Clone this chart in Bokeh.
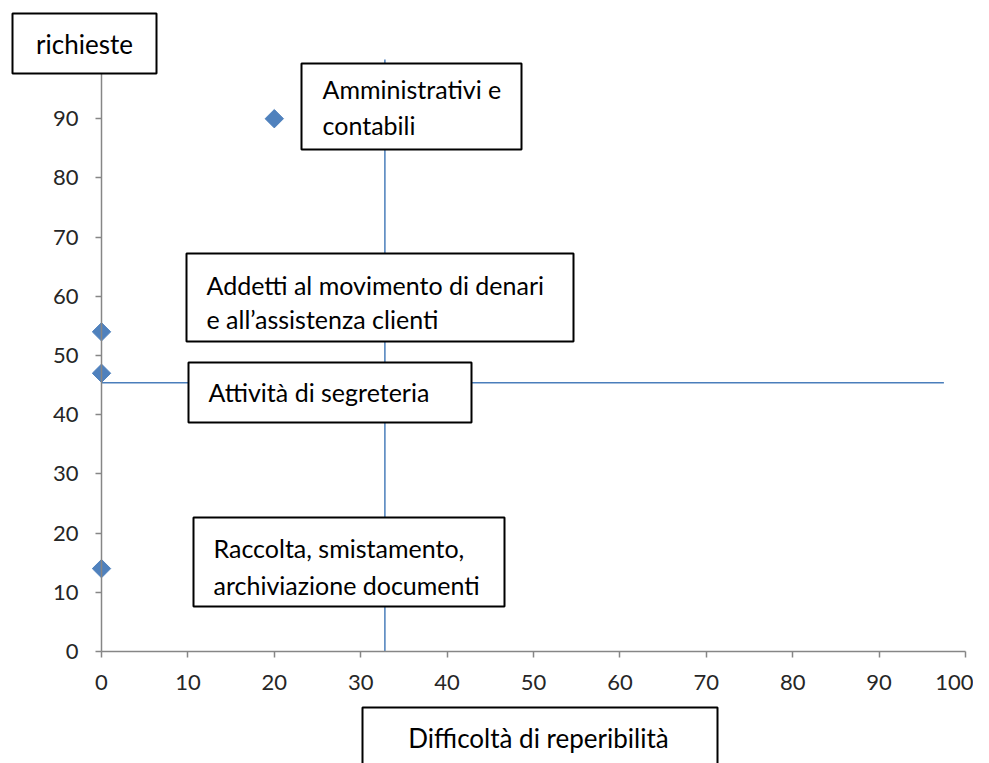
from bokeh.plotting import figure
from bokeh.models import BoxAnnotation, Label, FixedTicker, Range1d, LinearAxis
from bokeh.embed import file_html
from bokeh.resources import INLINE

# ---- data ----
x_vals = [20, 0, 0, 0]
y_vals = [90, 54, 47, 14]
mean_x = 32.8       # vertical reference line
mean_y = 45.4       # horizontal reference line
hline_end = 97.5
x_ticks = [0, 10, 20, 30, 40, 50, 60, 70, 80, 90, 100]
y_ticks = [0, 10, 20, 30, 40, 50, 60, 70, 80, 90]
x_title = "Difficoltà di reperibilità"
y_title = "richieste"
box_lines = [
    ["Amministrativi e", "contabili"],
    ["Addetti al movimento di denari", "e all\u2019assistenza clienti"],
    ["Attività di segreteria"],
    ["Raccolta, smistamento,", "archiviazione documenti"],
]

W, H = 973, 763
# pixel geometry of the axes box (x 0..100, y 0..100)
PX0, PX100 = 101, 965
PY0, PY100 = 651, 59
sx = (PX100 - PX0) / 100.0
sy = (PY0 - PY100) / 100.0

def dx(px):
    return (px - PX0) / sx

def dy(py):
    return (PY0 - py) / sy

FONT = "Lato"
p = figure(width=W, height=H, output_backend="svg", toolbar_location=None,
           x_range=Range1d(dx(0), dx(W)), y_range=Range1d(dy(H), dy(0)),
           x_axis_type=None, y_axis_type=None,
           min_border_left=0, min_border_right=0, min_border_top=0, min_border_bottom=0)
p.outline_line_color = None
p.grid.visible = False
p.background_fill_color = "white"
p.border_fill_color = "white"

xax = LinearAxis(fixed_location=0, bounds=(0, 100), ticker=FixedTicker(ticks=x_ticks))
yax = LinearAxis(fixed_location=0, bounds=(0, 100), ticker=FixedTicker(ticks=y_ticks))
for ax in (xax, yax):
    ax.axis_line_color = "#868686"
    ax.axis_line_width = 1.5
    ax.major_tick_line_color = "#868686"
    ax.major_tick_line_width = 1.5
    ax.minor_tick_line_color = None
    ax.major_tick_out = 6
    ax.major_tick_in = 0
    ax.major_label_text_font = FONT
    ax.major_label_text_font_size = "22px"
    ax.major_label_text_color = "#262626"
xax.major_label_standoff = 17
yax.major_label_standoff = 17
p.add_layout(xax, "below")
p.add_layout(yax, "left")

# reference lines
p.segment(x0=[mean_x], y0=[0], x1=[mean_x], y1=[100], line_color="#4A7EBB", line_width=1.5)
p.segment(x0=[0], y0=[mean_y], x1=[hline_end], y1=[mean_y], line_color="#4A7EBB", line_width=1.5)

# points
p.scatter(x_vals, y_vals, marker="square", angle=0.785398, size=13,
          fill_color="#4F81BD", line_color="#4F81BD")

def box(l, t, r, b):
    p.add_layout(BoxAnnotation(left=dx(l), right=dx(r), top=dy(t), bottom=dy(b),
                               fill_color="white", fill_alpha=1.0,
                               line_color="black", line_width=2, line_alpha=1.0,
                               level="annotation"))

def text(x, y, s, align="left", size="25px"):
    p.add_layout(Label(x=dx(x), y=dy(y), text=s, text_font=FONT,
                       text_font_size=size, text_color="black",
                       text_align=align, text_baseline="middle"))

# boxes (pixel layout)
box(12, 13, 156, 73)
text(84, 43, y_title, "center", "26px")

box(301, 63, 521, 149)
text(322, 88, box_lines[0][0]); text(322, 124, box_lines[0][1])

box(186, 253, 573, 341)
text(206, 284, box_lines[1][0]); text(206, 318, box_lines[1][1])

box(188, 362, 471, 422)
text(208, 391, box_lines[2][0])

box(193, 517, 504, 606)
text(213, 547, box_lines[3][0]); text(213, 584, box_lines[3][1])

box(362, 707, 717, 775)
text(538, 737, x_title, "center", "26px")

open("out.html", "w").write(file_html(p, INLINE))
